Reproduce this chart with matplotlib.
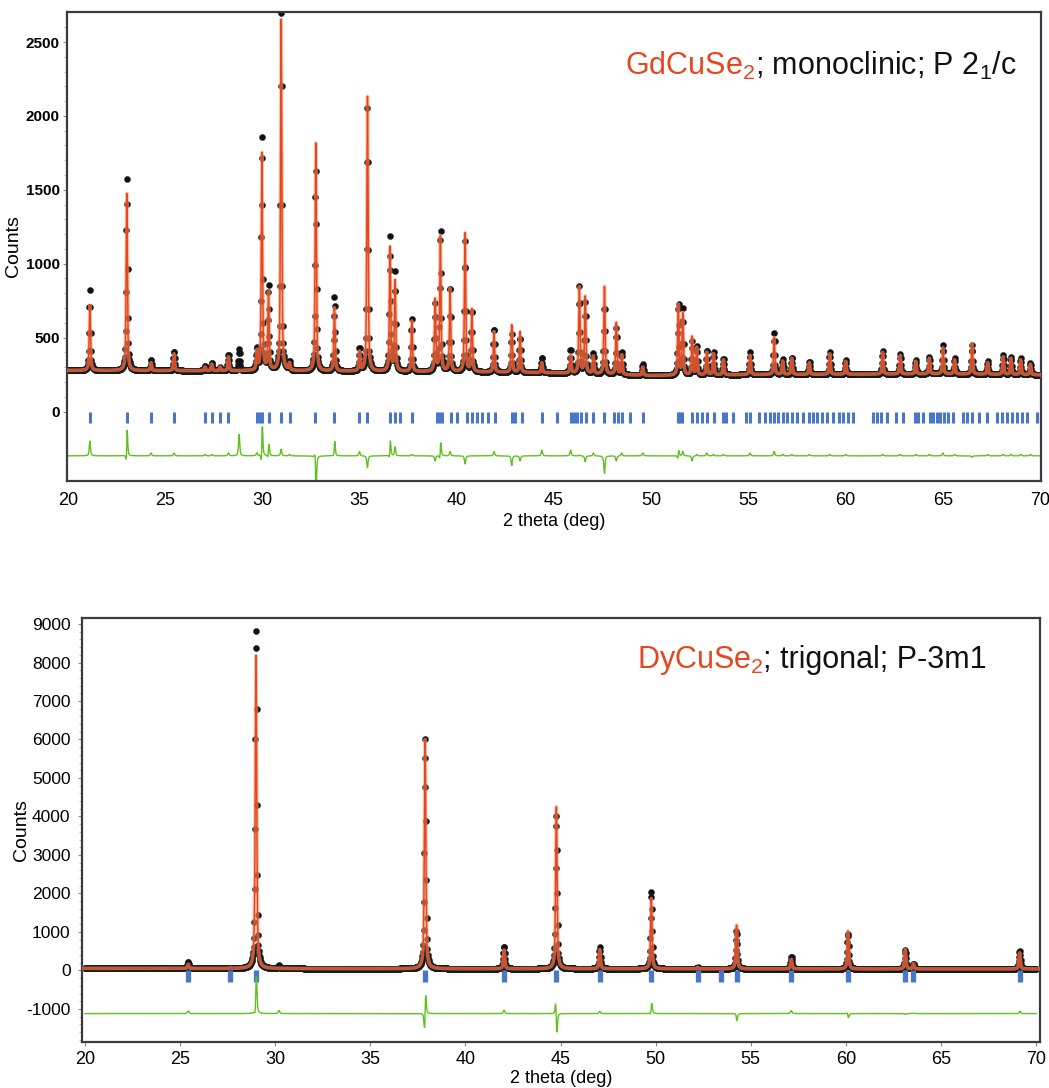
import numpy as np
import matplotlib
matplotlib.use("Agg")
import matplotlib.pyplot as plt
from matplotlib.ticker import MultipleLocator, FixedLocator

plt.rcParams['font.family'] = ['Liberation Sans', 'DejaVu Sans']
plt.rcParams['mathtext.fontset'] = 'custom'
plt.rcParams['mathtext.rm'] = 'Liberation Sans'
plt.rcParams['mathtext.it'] = 'Liberation Sans:italic'
plt.rcParams['mathtext.bf'] = 'Liberation Sans:bold'
plt.rcParams['axes.unicode_minus'] = False

# ---------------- GdCuSe2 (monoclinic) ----------------
gd_bg_pos = [20, 30, 40, 45, 50, 55, 60, 65, 70]
gd_bg_cnt = [278, 275, 268, 262, 243, 250, 252, 255, 248]

gd_peak_pos = [21.12, 23.02, 24.27, 25.45, 27.05, 27.39, 27.82, 28.25, 28.80,
               29.71, 29.97, 30.31, 30.96, 31.39, 32.74, 33.70, 34.99, 35.40,
               36.56, 36.82, 37.68, 38.88, 39.15, 39.65, 40.42, 40.77, 41.91,
               42.82, 43.25, 44.37, 45.85, 46.30, 46.60, 47.02, 47.59, 48.20,
               48.48, 49.56, 51.39, 51.62, 52.10, 52.34, 52.85, 53.20, 53.71,
               55.08, 56.32, 56.76, 57.23, 58.13, 59.18, 60.00, 61.90, 62.80,
               63.60, 64.30, 65.00, 65.60, 66.50, 67.30, 68.10, 68.50, 69.00,
               69.50]
gd_peak_obs = [820, 1585, 350, 410, 310, 330, 300, 390, 420,
               420, 1885, 855, 2695, 330, 1640, 780, 430, 2050,
               1180, 940, 620, 720, 1245, 860, 1150, 690, 570,
               520, 505, 370, 420, 845, 735, 390, 720, 565,
               400, 320, 735, 690, 470, 440, 420, 400, 360,
               400, 530, 350, 370, 340, 400, 350, 410, 390,
               350, 370, 450, 360, 450, 340, 380, 370, 360,
               330]
gd_peak_calc = [720, 1475, 330, 390, 300, 320, 300, 370, 275,
                400, 1750, 800, 2650, 320, 1815, 700, 400, 2130,
                1110, 880, 610, 755, 1185, 830, 1205, 690, 540,
                585, 540, 330, 380, 840, 775, 370, 845, 600,
                380, 300, 720, 660, 505, 430, 400, 390, 350,
                380, 500, 340, 360, 330, 390, 340, 400, 380,
                340, 360, 430, 350, 460, 330, 370, 360, 350,
                320]
gd_obs_shift = [0.0, 0.004, 0.0, 0.0, 0.0, 0.0, 0.0, 0.0, 0.0,
                0.0, 0.004, 0.004, 0.0, 0.0, -0.004, 0.004, 0.0, 0.0,
                0.003, 0.0, 0.0, 0.0, 0.003, 0.0, 0.0, 0.0, 0.0,
                0.0, 0.0, 0.0, 0.0, 0.0, 0.0, 0.0, 0.0, 0.0,
                0.0, 0.0, 0.003, 0.0, 0.0, 0.0, 0.0, 0.0, 0.0,
                0.0, 0.0, 0.0, 0.0, 0.0, 0.0, 0.0, 0.0, 0.0,
                0.0, 0.0, 0.0, 0.0, 0.0, 0.0, 0.0, 0.0, 0.0,
                0.0]

gd_bragg = [21.13, 23.02, 24.27, 25.45, 27.05, 27.39, 27.82, 28.25, 29.71,
            29.85, 29.97, 30.31, 30.96, 31.39, 32.72, 33.67, 34.99, 35.40,
            36.56, 36.82, 37.08, 37.68, 38.96, 39.10, 39.22, 39.70, 39.99,
            40.51, 40.77, 41.02, 41.28, 41.62, 41.97, 42.82, 42.99, 43.34,
            44.37, 45.14, 45.86, 46.00, 46.17, 46.37, 46.65, 47.02, 47.59,
            48.10, 48.28, 48.48, 48.91, 49.56, 51.39, 51.48, 51.57, 52.08,
            52.34, 52.60, 52.85, 53.20, 53.71, 53.85, 54.22, 54.88, 55.08,
            55.56, 55.85, 56.11, 56.32, 56.54, 56.76, 57.00, 57.23, 57.48,
            57.79, 58.13, 58.34, 58.51, 58.77, 59.03, 59.34, 59.63, 59.88,
            60.14, 60.40, 61.39, 61.60, 61.81, 62.11, 62.59, 62.97, 63.57,
            63.74, 64.00, 64.34, 64.51, 64.69, 64.86, 65.03, 65.28, 65.54,
            66.05, 66.26, 66.49, 66.83, 67.29, 67.77, 68.03, 68.29, 68.54,
            68.80, 69.06, 69.31, 69.83]

# ---------------- DyCuSe2 (trigonal) ----------------
dy_bg_pos = [20, 30, 40, 50, 60, 70]
dy_bg_cnt = [55, 50, 45, 45, 40, 40]

dy_peak_pos = [25.43, 27.65, 28.99, 30.20, 37.88, 42.03, 44.78, 47.06, 49.77,
               52.20, 54.25, 57.13, 60.11, 63.12, 63.55, 69.13]
dy_peak_obs = [230, 70, 9000, 130, 6070, 620, 4080, 600, 2070,
               80, 1030, 370, 960, 520, 180, 520]
dy_peak_calc = [160, 70, 8200, 50, 6000, 530, 4250, 540, 1870,
                80, 1180, 290, 1030, 540, 170, 460]
dy_obs_shift = [0.0, 0.0, 0.003, 0.0, 0.005, 0.0, -0.006, 0.0, 0.004,
                0.0, -0.004, 0.0, -0.004, 0.0, 0.0, 0.003]

dy_bragg = [25.43, 27.62, 28.99, 37.87, 42.03, 44.78, 47.06, 49.78, 52.20,
            53.44, 54.25, 57.13, 60.11, 63.12, 63.52, 69.13]

ORANGE = '#e8461e'
HALO = '#fba27a'
GREEN = '#5fc21c'
BLUE = '#4a76c8'
SPINE = '#3a3a40'


def profile(x, pos, amp, fwhm, eta):
    """Sum of pseudo-Voigt peaks."""
    y = np.zeros_like(x)
    for p, a in zip(pos, amp):
        t = (x - p) / fwhm
        y += a * (eta / (1.0 + 4.0 * t ** 2)
                  + (1.0 - eta) * np.exp(-4.0 * np.log(2.0) * t ** 2))
    return y


def draw_panel(ax, bg_pos, bg_cnt, pos, obs_h, calc_h, shift, bragg,
               fwhm, diff_offset, bragg_lo, tick_lw):
    pos = np.asarray(pos, float)
    bg_at_peak = np.interp(pos, bg_pos, bg_cnt)
    a_obs = np.asarray(obs_h, float) - bg_at_peak
    a_calc = np.asarray(calc_h, float) - bg_at_peak

    x_obs = np.arange(20.0, 70.0001, 0.02)
    x_calc = np.arange(19.8, 70.3, 0.004)

    y_obs = np.interp(x_obs, bg_pos, bg_cnt) + profile(
        x_obs, pos + np.asarray(shift), a_obs, fwhm, 0.6)
    y_calc_on_obs = np.interp(x_obs, bg_pos, bg_cnt) + profile(
        x_obs, pos, a_calc, fwhm, 0.6)
    y_calc = np.interp(x_calc, bg_pos, bg_cnt) + profile(
        x_calc, pos, a_calc, fwhm, 0.6)

    ax.plot(x_obs, y_obs, 'o', ms=4.4, color='#111111', mec='#222222',
            mew=0.3, zorder=2)
    ax.plot(x_calc, y_calc, '-', lw=2.6, color=HALO, alpha=0.6,
            zorder=3)
    ax.plot(x_calc, y_calc, '-', lw=1.1, color=ORANGE, zorder=4)

    ax.vlines(bragg, bragg_lo, 0, color=BLUE, lw=tick_lw, zorder=2)
    ax.plot(x_obs, y_obs - y_calc_on_obs + diff_offset, '-', lw=1.0,
            color=GREEN, zorder=2)

    for s in ax.spines.values():
        s.set_color(SPINE)
        s.set_linewidth(1.6)


fig = plt.figure(figsize=(10.49, 10.88), dpi=100)

# ---- upper panel ----
ax1 = fig.add_axes([0.0636, 0.5582, 0.9285, 0.4305])
draw_panel(ax1, gd_bg_pos, gd_bg_cnt, gd_peak_pos, gd_peak_obs, gd_peak_calc,
           gd_obs_shift, gd_bragg, 0.075, -300, -80, 2.2)
ax1.set_xlim(19.93, 70.03)
ax1.set_ylim(-468, 2701)
ax1.xaxis.set_major_locator(MultipleLocator(5))
ax1.yaxis.set_major_locator(FixedLocator([0, 500, 1000, 1500, 2000, 2500]))
ax1.yaxis.set_minor_locator(FixedLocator(np.arange(0, 2700, 100)))
ax1.tick_params(axis='y', which='major', direction='out', length=3, width=0.8,
                color='#888888', pad=2)
ax1.tick_params(axis='y', which='minor', direction='out', length=2, width=0.6,
                color='#aaaaaa')
ax1.tick_params(axis='x', which='major', length=0, pad=8, labelsize=13)
for lab in ax1.get_yticklabels():
    lab.set_fontfamily(['Liberation Sans Narrow', 'Liberation Sans'])
    lab.set_fontweight('bold')
    lab.set_fontsize(11)
ax1.set_xlabel('2 theta (deg)', fontsize=13, labelpad=3)
ax1.set_ylabel('Counts', fontsize=14)
ax1.yaxis.set_label_coords(-0.046, 0.5)

t1 = ax1.text(0.573, 0.866, r'GdCuSe$_\mathregular{2}$', transform=ax1.transAxes,
              fontsize=22, color=ORANGE, ha='left', va='baseline')
ax1.annotate(r'; monoclinic; P 2$_\mathregular{1}$/c', xy=(1, 0.866),
             xycoords=(t1, ax1.transAxes), fontsize=22, color='#111111',
             ha='left', va='baseline')

# ---- lower panel ----
ax2 = fig.add_axes([0.0779, 0.0426, 0.9135, 0.3891])
draw_panel(ax2, dy_bg_pos, dy_bg_cnt, dy_peak_pos, dy_peak_obs, dy_peak_calc,
           dy_obs_shift, dy_bragg, 0.09, -1120, -290, 3.8)
ax2.set_xlim(19.83, 70.2)
ax2.set_ylim(-1849, 9148)
ax2.xaxis.set_major_locator(MultipleLocator(5))
ax2.yaxis.set_major_locator(MultipleLocator(1000))
ax2.yaxis.set_minor_locator(MultipleLocator(200))
ax2.tick_params(axis='y', which='major', direction='out', length=3, width=0.8,
                color='#888888', pad=5, labelsize=12.5)
ax2.tick_params(axis='y', which='minor', direction='out', length=2, width=0.6,
                color='#aaaaaa')
ax2.tick_params(axis='x', which='major', direction='out', length=3, width=0.8,
                color='#888888', pad=4, labelsize=13)
ax2.set_xlabel('2 theta (deg)', fontsize=13)
ax2.xaxis.set_label_coords(0.5, -0.066)
ax2.set_ylabel('Counts', fontsize=14)
ax2.yaxis.set_label_coords(-0.054, 0.5)

t2 = ax2.text(0.579, 0.8826, r'DyCuSe$_\mathregular{2}$', transform=ax2.transAxes,
              fontsize=22, color=ORANGE, ha='left', va='baseline')
ax2.annotate('; trigonal; P-3m1', xy=(1, 0.8826),
             xycoords=(t2, ax2.transAxes), fontsize=22, color='#111111',
             ha='left', va='baseline')

fig.savefig('out.png', dpi=100)
